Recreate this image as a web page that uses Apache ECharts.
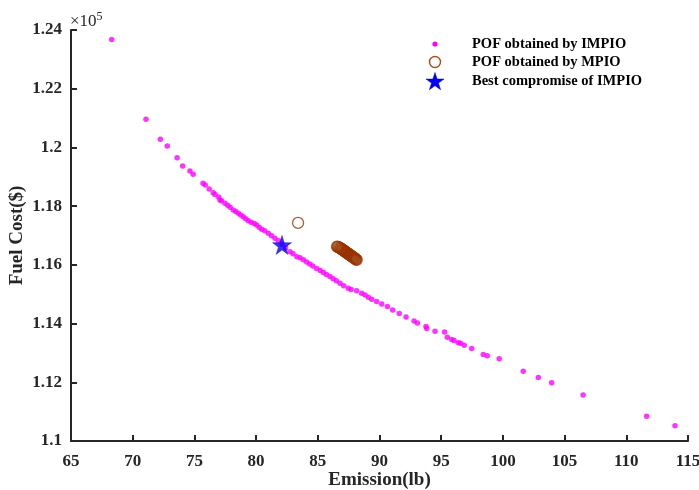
<!DOCTYPE html>
<html>
<head>
<meta charset="utf-8">
<script src="https://cdn.jsdelivr.net/npm/echarts@6/dist/echarts.min.js"></script>
<style>
  html, body { margin: 0; padding: 0; background: #fff; }
  #main { width: 699px; height: 490px; }
</style>
</head>
<body>
<div id="main"></div>
<script>
// POF obtained by IMPIO  [emission(lb), fuel cost (x1e5 $)]
var impioPoints = [
  [68.3, 1.2368], [71.08, 1.2096], [72.24, 1.2028], [72.8, 1.2005], [73.6, 1.1965],
  [74.05, 1.1937], [74.64, 1.192], [74.9, 1.1909], [75.7, 1.1878], [75.88, 1.1872],
  [76.2, 1.1858], [76.53, 1.1846], [76.67, 1.184], [76.97, 1.1831], [77.07, 1.1821],
  [77.2, 1.1818], [77.48, 1.181], [77.7, 1.1803], [77.9, 1.1796], [78.15, 1.1787],
  [78.35, 1.1782], [78.56, 1.1776], [78.75, 1.177], [78.96, 1.1764], [79.15, 1.1757],
  [79.37, 1.175], [79.6, 1.1745], [79.85, 1.1741], [80.05, 1.1736], [80.25, 1.1728],
  [80.45, 1.1721], [80.7, 1.1716], [80.99, 1.1708], [81.25, 1.1699], [81.53, 1.1691],
  [81.8, 1.1682], [82.1, 1.167], [82.4, 1.1657], [82.75, 1.1645], [83.0, 1.1638],
  [83.3, 1.1628], [83.56, 1.1624], [83.83, 1.1617], [84.1, 1.161], [84.35, 1.1603],
  [84.6, 1.1596], [84.91, 1.1588], [85.2, 1.1581], [85.45, 1.1574], [85.7, 1.1567],
  [85.99, 1.156], [86.25, 1.1553], [86.5, 1.1546], [86.8, 1.1537], [87.1, 1.1529],
  [87.47, 1.152], [87.7, 1.1516], [88.15, 1.1512], [88.56, 1.1503], [88.83, 1.1497],
  [89.1, 1.149], [89.37, 1.1483], [89.77, 1.1475], [90.18, 1.1467], [90.64, 1.1458],
  [91.07, 1.1446], [91.6, 1.1434], [92.15, 1.1422], [92.8, 1.1409], [93.07, 1.1402],
  [93.77, 1.139], [93.83, 1.1383], [94.5, 1.1374], [95.28, 1.1371], [95.5, 1.1353],
  [95.85, 1.1346], [96.04, 1.1342], [96.39, 1.1335], [96.58, 1.1333], [96.87, 1.1326],
  [97.47, 1.1315], [98.41, 1.1295], [98.73, 1.129], [99.7, 1.128], [101.65, 1.1238],
  [102.87, 1.1216], [103.95, 1.1198], [106.5, 1.1157], [111.65, 1.1084], [113.95, 1.1052]
];

// POF obtained by MPIO
var mpioPoints = [
  [83.4, 1.1743],
  [86.56, 1.1662], [86.62, 1.1661], [86.7, 1.166], [86.78, 1.1658], [86.85, 1.1656],
  [86.9, 1.1655], [86.95, 1.1653], [87.0, 1.1652], [87.05, 1.165], [87.1, 1.1649],
  [87.15, 1.1647], [87.2, 1.1646], [87.25, 1.1644], [87.3, 1.1643], [87.35, 1.1641],
  [87.4, 1.164], [87.45, 1.1638], [87.5, 1.1637], [87.55, 1.1635], [87.6, 1.1634],
  [87.65, 1.1632], [87.7, 1.1631], [87.75, 1.1629], [87.8, 1.1628], [87.85, 1.1626],
  [87.9, 1.1625], [87.95, 1.1623], [88.0, 1.1622], [88.05, 1.162], [88.1, 1.1619],
  [88.15, 1.1617]
];

// Best compromise of IMPIO
var bestPoint = [[82.1, 1.1668]];

var xTicks = { min: 65, max: 115, step: 5 };
var yTicks = { min: 1.1, max: 1.24, step: 0.02 };

var starPath = 'path://M50,0 L61.2,34.5 L97.6,34.5 L68.2,55.9 L79.4,90.5 L50,69.1 L20.6,90.5 L31.8,55.9 L2.4,34.5 L38.8,34.5 Z';
var serif = '"Liberation Serif", "Times New Roman", serif';
var axisColor = '#262626';
var brown = '#993300';

// star outline for the legend glyph, centred on (cx, cy)
function starPoints(cx, cy, s) {
  var pts = [[50,0],[61.2,34.5],[97.6,34.5],[68.2,55.9],[79.4,90.5],[50,69.1],[20.6,90.5],[31.8,55.9],[2.4,34.5],[38.8,34.5]];
  return pts.map(function (p) { return [cx + (p[0] - 50) * s / 100, cy + (p[1] - 50) * s / 100]; });
}

var chart = echarts.init(document.getElementById('main'));

var option = {
  backgroundColor: '#ffffff',
  animation: false,
  grid: { left: 71, right: 11, top: 30, bottom: 49, outerBoundsMode: 'none', containLabel: false },
  xAxis: {
    type: 'value',
    min: xTicks.min,
    max: xTicks.max,
    interval: xTicks.step,
    name: 'Emission(lb)',
    nameLocation: 'middle',
    nameGap: 30,
    nameMoveOverlap: false,
    nameTextStyle: { fontFamily: serif, fontWeight: 'bold', fontSize: 19, color: axisColor },
    axisLine: { lineStyle: { color: axisColor, width: 2 } },
    axisTick: { inside: true, length: 6, lineStyle: { color: axisColor, width: 2 } },
    axisLabel: { fontFamily: serif, fontWeight: 'bold', fontSize: 17, color: axisColor, margin: 12 },
    splitLine: { show: false }
  },
  yAxis: {
    type: 'value',
    min: yTicks.min,
    max: yTicks.max,
    interval: yTicks.step,
    name: 'Fuel Cost($)',
    nameLocation: 'middle',
    nameGap: 44,
    nameMoveOverlap: false,
    nameTextStyle: { fontFamily: serif, fontWeight: 'bold', fontSize: 19, color: axisColor },
    axisLine: { show: true, lineStyle: { color: axisColor, width: 2 } },
    axisTick: { show: true, inside: true, length: 6, lineStyle: { color: axisColor, width: 2 } },
    axisLabel: {
      fontFamily: serif, fontWeight: 'bold', fontSize: 17, color: axisColor, margin: 9,
      formatter: function (v) { return String(+v.toFixed(2)); }
    },
    splitLine: { show: false }
  },
  series: [
    {
      name: 'POF obtained by IMPIO',
      type: 'scatter',
      data: impioPoints,
      symbol: 'circle',
      symbolSize: 5.5,
      itemStyle: { color: '#ff00ff' },
      z: 2
    },
    {
      name: 'POF obtained by MPIO',
      type: 'scatter',
      data: mpioPoints,
      symbol: 'circle',
      symbolSize: 11,
      itemStyle: { color: 'rgba(0,0,0,0)', borderColor: brown, borderWidth: 1.3 },
      z: 3
    },
    {
      name: 'Best compromise of IMPIO',
      type: 'scatter',
      data: bestPoint,
      symbol: starPath,
      symbolSize: 19,
      itemStyle: { color: '#0000ff', borderColor: '#0000cc', borderWidth: 0.5 },
      z: 4
    }
  ],
  graphic: [
    // x10^5 exponent label
    {
      type: 'text', x: 70, y: 11,
      style: {
        text: '×10{s|5}',
        fontFamily: serif, fontSize: 17, fill: axisColor,
        rich: { s: { fontFamily: serif, fontSize: 12, verticalAlign: 'top', padding: [0, 0, 9, 0] } }
      }
    },
    // legend
    { type: 'circle', shape: { cx: 435, cy: 44, r: 2.6 }, style: { fill: '#ff00ff' } },
    { type: 'circle', shape: { cx: 435, cy: 62, r: 5.5 }, style: { fill: 'none', stroke: '#b04a1a', lineWidth: 1.4 } },
    {
      type: 'polygon', shape: { points: starPoints(435, 82, 19) },
      style: { fill: '#0000ff', stroke: '#0000cc', lineWidth: 0.5 }
    },
    { type: 'text', x: 472, y: 44, style: { text: 'POF obtained by IMPIO', fontFamily: serif, fontWeight: 'bold', fontSize: 14.5, fill: '#000', verticalAlign: 'middle' } },
    { type: 'text', x: 472, y: 62, style: { text: 'POF obtained by MPIO', fontFamily: serif, fontWeight: 'bold', fontSize: 14.5, fill: '#000', verticalAlign: 'middle' } },
    { type: 'text', x: 472, y: 81, style: { text: 'Best compromise of IMPIO', fontFamily: serif, fontWeight: 'bold', fontSize: 14.5, fill: '#000', verticalAlign: 'middle' } }
  ]
};

chart.setOption(option);
</script>
</body>
</html>
